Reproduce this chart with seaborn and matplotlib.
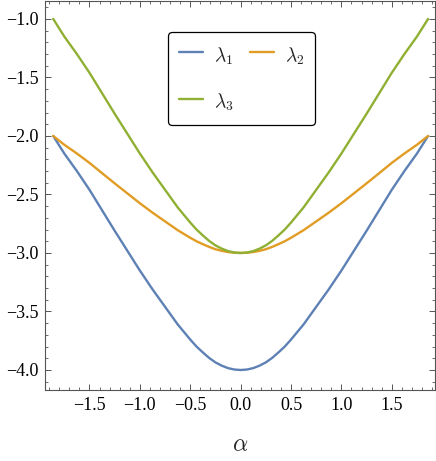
import numpy as np
import pandas as pd
import seaborn as sns
import matplotlib.pyplot as plt
from matplotlib.ticker import MultipleLocator

# values
alpha = [-1.86, -1.75, -1.625, -1.5, -1.375, -1.25, -1.125, -1.0, -0.875, -0.75,
         -0.625, -0.5, -0.4375, -0.375, -0.3125, -0.25, -0.1875, -0.125, -0.0625, 0.0,
         0.0625, 0.125, 0.1875, 0.25, 0.3125, 0.375, 0.4375, 0.5,
         0.625, 0.75, 0.875, 1.0, 1.125, 1.25, 1.375, 1.5, 1.625, 1.75, 1.86]
lam1 = [-2.00, -2.15, -2.30, -2.46, -2.635, -2.81, -2.98, -3.15, -3.31, -3.46,
        -3.61, -3.74, -3.80, -3.85, -3.897, -3.935, -3.963, -3.984, -3.996, -4.00,
        -3.996, -3.984, -3.963, -3.935, -3.897, -3.85, -3.80, -3.74,
        -3.61, -3.46, -3.31, -3.15, -2.98, -2.81, -2.635, -2.46, -2.30, -2.15, -2.00]
lam2 = [-2.00, -2.075, -2.15, -2.23, -2.318, -2.405, -2.49, -2.575, -2.655, -2.73,
        -2.805, -2.87, -2.90, -2.925, -2.948, -2.968, -2.982, -2.992, -2.998, -3.00,
        -2.998, -2.992, -2.982, -2.968, -2.948, -2.925, -2.90, -2.87,
        -2.805, -2.73, -2.655, -2.575, -2.49, -2.405, -2.318, -2.23, -2.15, -2.075, -2.00]
lam3 = [-1.00, -1.15, -1.30, -1.46, -1.635, -1.81, -1.98, -2.15, -2.31, -2.46,
        -2.61, -2.74, -2.80, -2.85, -2.897, -2.935, -2.963, -2.984, -2.996, -3.00,
        -2.996, -2.984, -2.963, -2.935, -2.897, -2.85, -2.80, -2.74,
        -2.61, -2.46, -2.31, -2.15, -1.98, -1.81, -1.635, -1.46, -1.30, -1.15, -1.00]

labels = [r'$\lambda_1$', r'$\lambda_2$', r'$\lambda_3$']
colors = ['#5E81B5', '#E19C24', '#8FB032']

df = pd.concat([
    pd.DataFrame({'alpha': alpha, 'value': lam1, 'series': labels[0]}),
    pd.DataFrame({'alpha': alpha, 'value': lam2, 'series': labels[1]}),
    pd.DataFrame({'alpha': alpha, 'value': lam3, 'series': labels[2]}),
])

sns.set_style("ticks")
plt.rcParams['font.family'] = ['Liberation Serif', 'DejaVu Serif']
plt.rcParams['mathtext.fontset'] = 'cm'
plt.rcParams['axes.unicode_minus'] = True

fig = plt.figure(figsize=(4.36, 4.61), dpi=100)
ax = fig.add_axes([0.104, 0.154, 0.894, 0.844])

sns.lineplot(data=df, x='alpha', y='value', hue='series', palette=colors,
             linewidth=1.7, ax=ax, legend=False, sort=False, estimator=None)

ax.set_xlim(-1.938, 1.93)
ax.set_ylim(-4.171, -0.846)
ax.xaxis.set_major_locator(MultipleLocator(0.5))
ax.xaxis.set_minor_locator(MultipleLocator(0.1))
ax.yaxis.set_major_locator(MultipleLocator(0.5))
ax.yaxis.set_minor_locator(MultipleLocator(0.1))
ax.tick_params(which='both', direction='in', top=True, right=True,
               color='#555555', labelsize=13, labelcolor='black')
ax.tick_params(which='major', length=4.5, width=0.7, pad=5)
ax.tick_params(which='minor', length=2.5, width=0.6)
for sp in ax.spines.values():
    sp.set_color('#555555')
    sp.set_linewidth(0.8)

ax.set_xlabel(r'$\alpha$', fontsize=17, labelpad=15)
ax.set_ylabel('')

# row 1: lambda1, lambda2; row 2: lambda3
handles = [plt.Line2D([], [], color=c, linewidth=1.7) for c in colors]
order = [0, 2, 1]
leg = ax.legend([handles[i] for i in order], [labels[i] for i in order],
                loc='upper left', bbox_to_anchor=(0.3156, 0.921),
                borderaxespad=0, ncol=2, fontsize=14, frameon=True, fancybox=True,
                handlelength=1.25, handleheight=1.65, handletextpad=0.55,
                columnspacing=0.85, labelspacing=1.08, borderpad=0.55)
leg.get_frame().set_edgecolor('black')
leg.get_frame().set_linewidth(0.9)
leg.get_frame().set_alpha(1)

fig.savefig('out.png', dpi=100)
